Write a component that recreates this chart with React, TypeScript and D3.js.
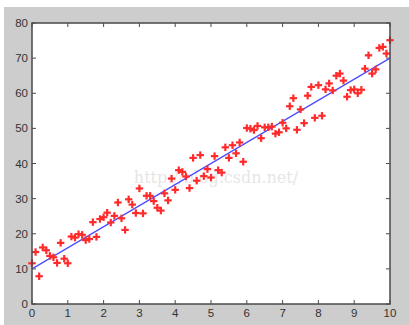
import * as d3 from "d3";

// sample x positions 0..10 by 0.1 with observed y values
const xs = [
  0, 0.1, 0.2, 0.3, 0.4, 0.5, 0.6, 0.7, 0.8, 0.9, 1, 1.1, 1.2, 1.3, 1.4, 1.5,
  1.6, 1.7, 1.8, 1.9, 2, 2.1, 2.2, 2.3, 2.4, 2.5, 2.6, 2.7, 2.8, 2.9, 3, 3.1,
  3.2, 3.3, 3.4, 3.5, 3.6, 3.7, 3.8, 3.9, 4, 4.1, 4.2, 4.3, 4.4, 4.5, 4.6, 4.7,
  4.8, 4.9, 5, 5.1, 5.2, 5.3, 5.4, 5.5, 5.6, 5.7, 5.8, 5.9, 6, 6.1, 6.2, 6.3,
  6.4, 6.5, 6.6, 6.7, 6.8, 6.9, 7, 7.1, 7.2, 7.3, 7.4, 7.5, 7.6, 7.7, 7.8, 7.9,
  8, 8.1, 8.2, 8.3, 8.4, 8.5, 8.6, 8.7, 8.8, 8.9, 9, 9.1, 9.2, 9.3, 9.4, 9.5,
  9.6, 9.7, 9.8, 9.9, 10,
];
const ys = [
  11.6, 14.8, 7.9, 16.1, 15.3, 13.7, 13.3, 11.7, 17.4, 12.9, 11.6, 19.2, 18.9,
  19.9, 19.7, 18.2, 18.5, 23.3, 19.1, 24.2, 24.7, 26.0, 23.2, 25.1, 28.9, 24.4,
  21.1, 29.8, 28.3, 25.9, 32.9, 25.8, 30.8, 30.8, 29.3, 27.4, 26.6, 31.5, 29.5,
  35.7, 32.5, 38.1, 37.6, 36.3, 33.0, 41.6, 35.1, 42.4, 36.4, 38.4, 36.0, 42.1,
  38.1, 37.4, 44.6, 41.6, 45.2, 42.9, 46.0, 40.5, 50.1, 49.9, 49.5, 50.7, 47.2,
  50.3, 50.3, 50.5, 48.5, 48.9, 51.6, 50.0, 56.3, 58.6, 49.6, 55.4, 51.5, 59.3,
  61.8, 53.0, 62.3, 53.6, 61.1, 62.8, 60.8, 65.0, 65.6, 63.6, 59.0, 60.9, 61.1,
  60.0, 61.0, 67.0, 70.8, 65.6, 66.8, 72.9, 73.2, 71.3, 75.1,
];
// fitted line endpoints
const fitX = [0, 10];
const fitY = [10, 70];
const xTicks = [0, 1, 2, 3, 4, 5, 6, 7, 8, 9, 10];
const yTicks = [0, 10, 20, 30, 40, 50, 60, 70, 80];

const W = 409;
const H = 325;
const plot = { left: 32, right: 390, top: 23, bottom: 304 };

export default function App() {
  const x = d3.scaleLinear().domain([0, 10]).range([plot.left, plot.right]);
  const y = d3.scaleLinear().domain([0, 80]).range([plot.bottom, plot.top]);
  const line = d3
    .line<number>()
    .x((d) => x(fitX[d]))
    .y((d) => y(fitY[d]));
  const axisColor = "#4a4a4a";
  const tickLen = 4;

  return (
    <svg
      width={W}
      height={H}
      style={{ position: "absolute", left: 0, top: 0, display: "block" }}
      fontFamily="Liberation Sans, Arial, sans-serif"
    >
      <defs>
        <filter id="soft" x="-20%" y="-20%" width="140%" height="140%">
          <feGaussianBlur stdDeviation="0.4" />
        </filter>
      </defs>
      <rect width={W} height={H} fill="#ffffff" />
      <rect x={4} y={7} width={W - 4} height={H - 7} fill="#cdcdcd" />
      <rect
        x={plot.left}
        y={plot.top}
        width={plot.right - plot.left}
        height={plot.bottom - plot.top}
        fill="#ffffff"
      />
      {/* watermark */}
      <text
        x={216}
        y={183}
        textAnchor="middle"
        fontFamily="DejaVu Serif, Liberation Serif, serif"
        fontSize={16}
        fill="#e6e6e6"
      >
        http://blog.csdn.net/
      </text>
      {/* ticks on all sides */}
      <g stroke={axisColor} strokeWidth={1}>
        {xTicks.map((t) => (
          <g key={"x" + t}>
            <line x1={x(t)} x2={x(t)} y1={plot.bottom} y2={plot.bottom - tickLen} />
            <line x1={x(t)} x2={x(t)} y1={plot.top} y2={plot.top + tickLen} />
          </g>
        ))}
        {yTicks.map((t) => (
          <g key={"y" + t}>
            <line x1={plot.left} x2={plot.left + tickLen} y1={y(t)} y2={y(t)} />
            <line x1={plot.right} x2={plot.right - tickLen} y1={y(t)} y2={y(t)} />
          </g>
        ))}
      </g>
      {/* fitted line */}
      <path
        d={line([0, 1]) ?? ""}
        fill="none"
        stroke="#4a4aff"
        strokeWidth={1.2}
      />
      {/* data points */}
      <g stroke="#ff2a2a" strokeWidth={2.2} filter="url(#soft)">
        {xs.map((v, i) => (
          <g key={i} transform={`translate(${x(v)},${y(ys[i])})`}>
            <line x1={-3.7} x2={3.7} y1={0} y2={0} />
            <line x1={0} x2={0} y1={-3.7} y2={3.7} />
          </g>
        ))}
      </g>
      <rect
        x={plot.left}
        y={plot.top}
        width={plot.right - plot.left}
        height={plot.bottom - plot.top}
        fill="none"
        stroke={axisColor}
        strokeWidth={1.5}
      />
      {/* tick labels */}
      <g fill="#333333" fontSize={11.5}>
        {xTicks.map((t) => (
          <text key={"xl" + t} x={x(t)} y={plot.bottom + 13} textAnchor="middle">
            {t}
          </text>
        ))}
        {yTicks.map((t) => (
          <text
            key={"yl" + t}
            x={plot.left - 4}
            y={y(t)}
            dy="0.35em"
            textAnchor="end"
          >
            {t}
          </text>
        ))}
      </g>
    </svg>
  );
}
